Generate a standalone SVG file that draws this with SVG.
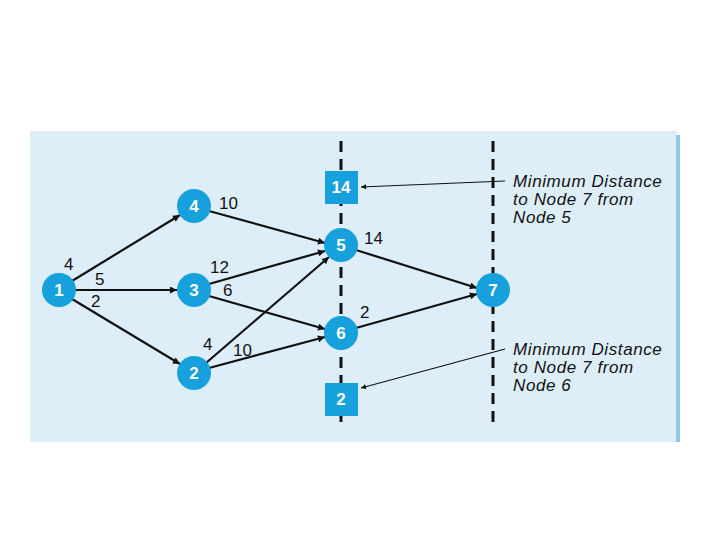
<svg xmlns="http://www.w3.org/2000/svg" width="720" height="540" viewBox="0 0 720 540">
<defs>
<marker id="ah" viewBox="0 0 10 10" refX="10" refY="5" markerWidth="12" markerHeight="7" markerUnits="userSpaceOnUse" orient="auto"><path d="M0,0 L10,5 L0,10 z" fill="#111"/></marker>
<marker id="ahs" viewBox="0 0 10 10" refX="10" refY="5" markerWidth="9" markerHeight="5" markerUnits="userSpaceOnUse" orient="auto"><path d="M0,0 L10,5 L0,10 z" fill="#111"/></marker>
<style>
.n circle{fill:#17a1dc}
.n rect{fill:#17a1dc}
.n text{fill:#fff;font-family:"Liberation Sans",Arial,sans-serif;font-weight:bold;font-size:17px;text-anchor:middle}
.e line{stroke:#111;stroke-width:2.2;marker-end:url(#ah)}
.a line{stroke:#111;stroke-width:1.2;marker-end:url(#ahs)}
.lbl{font-family:"Liberation Sans",Arial,sans-serif;font-size:17px;fill:#111}
.note{font-family:"Liberation Sans",Arial,sans-serif;font-size:17px;font-style:italic;letter-spacing:0.6px;fill:#111}
.dash{stroke:#111;stroke-width:3;stroke-dasharray:11 7}
</style>
</defs>
<rect x="30" y="131" width="647" height="311" fill="#ddeef9"/>
<rect x="676" y="135" width="4" height="307" fill="#8ecbea"/>
<line class="dash" x1="341" y1="141" x2="341" y2="428"/>
<line class="dash" x1="493" y1="141" x2="493" y2="428"/>
<g id="connectors">
<g class="e">
<line x1="72" y1="281" x2="180" y2="215"/>
<line x1="75" y1="290" x2="177" y2="290"/>
<line x1="72" y1="299" x2="180" y2="364"/>
<line x1="209" y1="211" x2="325" y2="243"/>
<line x1="209" y1="284" x2="325" y2="251"/>
<line x1="209" y1="296" x2="325" y2="329"/>
<line x1="206" y1="363" x2="329" y2="257"/>
<line x1="209" y1="368" x2="325" y2="337"/>
<line x1="356" y1="250" x2="477" y2="288"/>
<line x1="356" y1="328" x2="477" y2="294"/>
</g>
<g class="a">
<line x1="505" y1="181" x2="361" y2="187"/>
<line x1="505" y1="349" x2="361" y2="388"/>
</g>
</g>
<g class="lbl">
<text x="64" y="270">4</text>
<text x="95" y="285">5</text>
<text x="91" y="307">2</text>
<text x="219" y="209">10</text>
<text x="210" y="273">12</text>
<text x="223" y="296">6</text>
<text x="203" y="350">4</text>
<text x="233" y="356">10</text>
<text x="364" y="244">14</text>
<text x="360" y="318">2</text>
</g>
<g id="node1" class="n"><circle cx="59" cy="290" r="17"/><text x="59" y="296">1</text></g>
<g id="node4" class="n"><circle cx="194" cy="206" r="17"/><text x="194" y="212">4</text></g>
<g id="node3" class="n"><circle cx="194" cy="290" r="17"/><text x="194" y="296">3</text></g>
<g id="node2" class="n"><circle cx="194" cy="373" r="17"/><text x="194" y="379">2</text></g>
<g id="node5" class="n"><circle cx="341" cy="245" r="17"/><text x="341" y="251">5</text></g>
<g id="node6" class="n"><circle cx="341" cy="333" r="17"/><text x="341" y="339">6</text></g>
<g id="node7" class="n"><circle cx="493" cy="290" r="17"/><text x="493" y="296">7</text></g>
<g id="box14" class="n"><rect x="325" y="171" width="33" height="33"/><text x="341" y="193">14</text></g>
<g id="box2" class="n"><rect x="325" y="383" width="33" height="33"/><text x="341" y="405">2</text></g>
<g id="note5" class="note">
<text x="513" y="187">Minimum Distance</text>
<text x="513" y="205">to Node 7 from</text>
<text x="513" y="223">Node 5</text>
</g>
<g id="note6" class="note">
<text x="513" y="355">Minimum Distance</text>
<text x="513" y="373">to Node 7 from</text>
<text x="513" y="391">Node 6</text>
</g>
</svg>
